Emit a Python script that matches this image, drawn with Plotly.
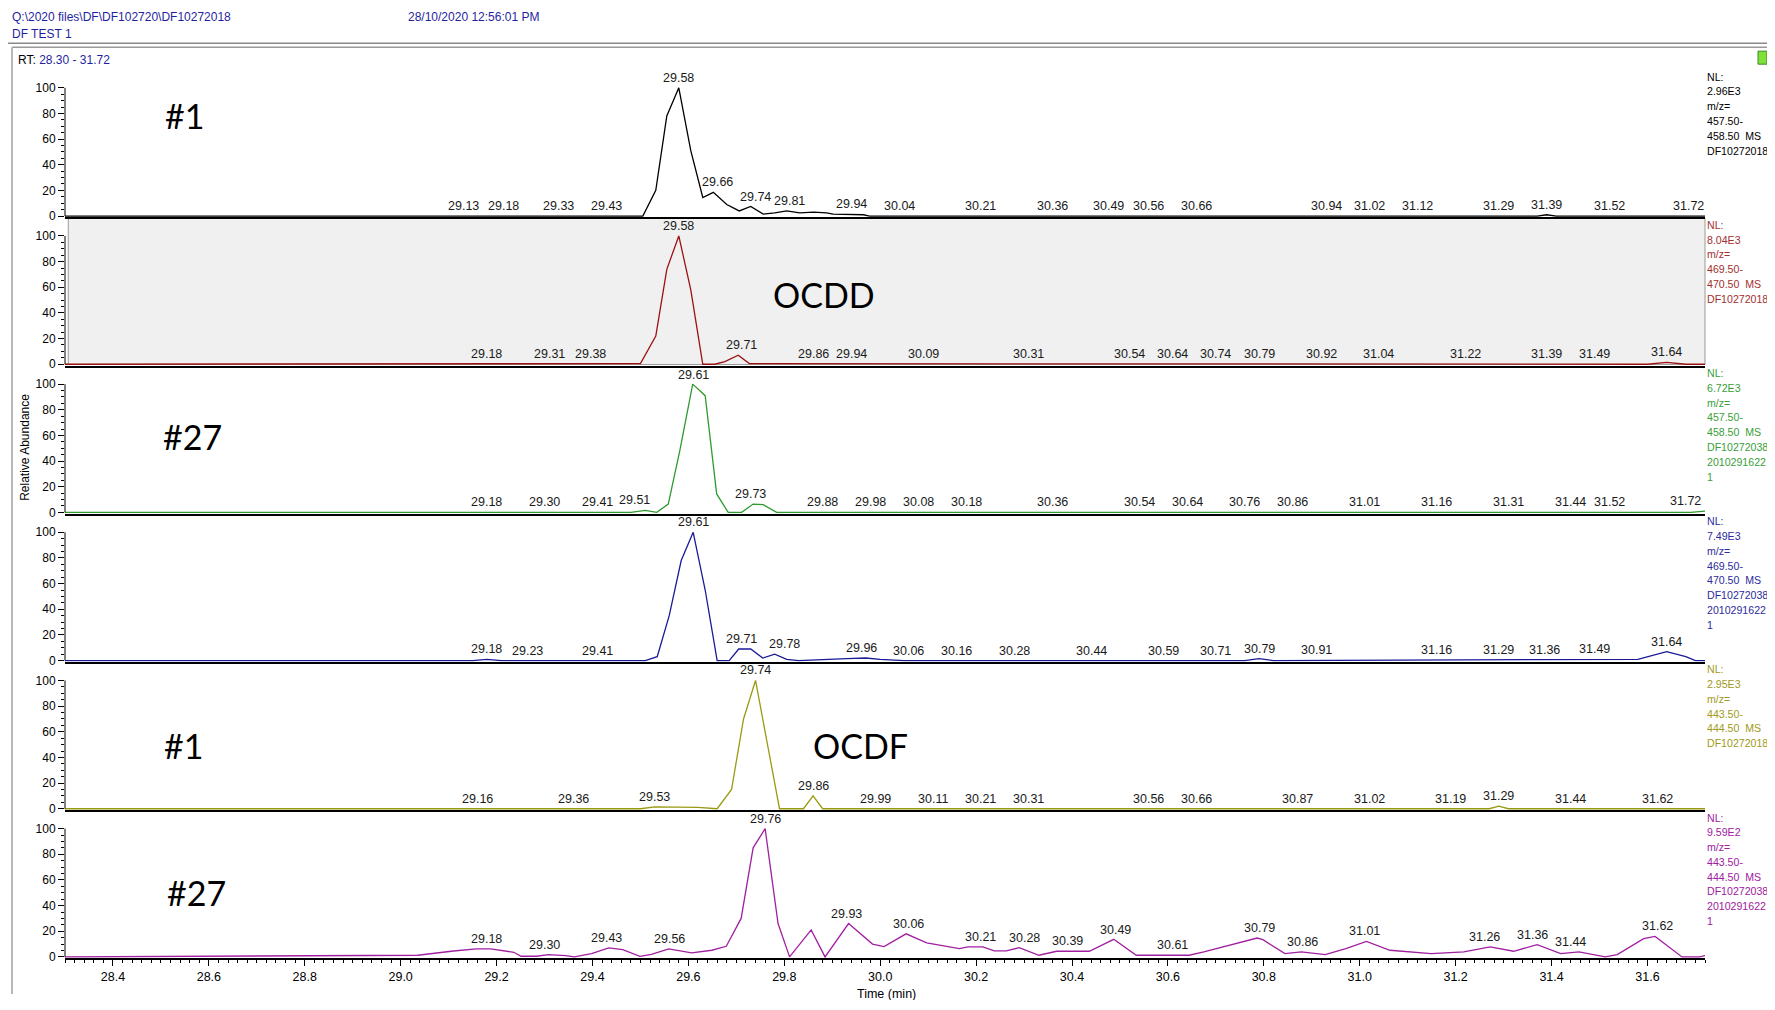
import numpy as np
import plotly.graph_objects as go

# Page body has an 8px margin: the figure is placed at (8, 8) in the window.
OFF = 8
FW, FH = 1759, 992

# ---------------- data ----------------
rt_range = [28.30, 31.72]

t1 = [28.30, 29.505, 29.532, 29.555, 29.58, 29.605, 29.63, 29.652, 29.68, 29.706, 29.73, 29.756, 29.78,
      29.805, 29.832, 29.861, 29.888, 29.902, 29.965, 29.978, 31.37, 31.39, 31.41, 31.72]
v1 = [0, 0, 20, 78, 100, 51, 14.5, 18.5, 9, 4, 7.5, 1.5, 2.5,
      4, 2.5, 3, 2.5, 1.5, 1, 0, 0, 1, 0, 0]

t2 = [28.30, 29.50, 29.532, 29.555, 29.58, 29.605, 29.63, 29.655, 29.676, 29.704, 29.727, 31.60, 31.64, 31.68, 31.72]
v2 = [0, 0.5, 22, 74, 100, 58, 0, 0, 2, 7, 0.5, 0, 1.5, 0, 0]

t3 = [28.30, 29.48, 29.51, 29.534, 29.558, 29.582, 29.609, 29.635, 29.659, 29.683, 29.711, 29.735, 29.756,
      29.784, 31.69, 31.72]
v3 = [0, 0, 1.5, 0, 6.5, 48, 100, 91, 14.4, 0, 0, 6.5, 6,
      0, 0, 1]

t4 = [28.30, 29.15, 29.18, 29.21, 29.51, 29.535, 29.56, 29.585, 29.61, 29.635, 29.66, 29.685, 29.705, 29.73,
      29.755, 29.78, 29.805, 29.83, 29.93, 29.97, 30.00, 30.05, 30.76, 30.79, 30.82, 31.58, 31.64, 31.68,
      31.70, 31.72]
v4 = [0, 0, 1, 0, 0, 3, 35, 78, 100, 55, 0, 0, 9, 9,
      2, 5, 1, 0, 1.5, 2, 1, 0, 0, 1.5, 0, 1, 7, 3,
      0, 0]

t5 = [28.30, 29.50, 29.53, 29.62, 29.66, 29.69, 29.715, 29.74, 29.765, 29.79, 29.84, 29.86, 29.88,
      31.27, 31.29, 31.31, 31.72]
v5 = [0, 0, 1.5, 1, 0, 15, 70, 100, 50, 0, 0, 10, 0,
      0, 2, 0, 0]

t6 = [28.30, 29.036, 29.110, 29.158, 29.188, 29.236, 29.251, 29.283, 29.308, 29.344, 29.362, 29.398, 29.434,
      29.463, 29.499, 29.523, 29.559, 29.607, 29.649, 29.679, 29.71, 29.735, 29.76, 29.787, 29.811, 29.856,
      29.885, 29.934, 29.984, 30.008, 30.054, 30.097, 30.165, 30.183, 30.214, 30.238, 30.263, 30.290, 30.331,
      30.368, 30.436, 30.487, 30.534, 30.644, 30.675, 30.755, 30.786, 30.798, 30.844, 30.878, 30.928, 30.971,
      31.014, 31.063, 31.149, 31.217, 31.272, 31.321, 31.370, 31.419, 31.457, 31.512, 31.537, 31.592, 31.616,
      31.672, 31.709, 31.72]
v6 = [0, 1.3, 4.6, 6.2, 6.2, 3.6, 0.5, 0.5, 1.8, 1, 0, 2.6, 7,
      5.7, 0.5, 2, 6.2, 3.1, 5.2, 8.3, 30, 85, 100, 26, 0, 21,
      0, 26, 10, 8, 18, 10.9, 6.5, 7.8, 7.8, 4.7, 4.7, 7.2, 1.3,
      4.4, 4.4, 13.7, 1.3, 1.3, 3.9, 11.6, 14.7, 13.4, 2.6, 3.9, 1.8, 6.5,
      12.1, 5.2, 2.6, 3.9, 7.8, 4.4, 9.6, 2.6, 3.9, 0, 1.8, 14.2, 16,
      0, 0, 1]

labels1 = [29.13, 29.18, 29.33, 29.43, 29.58, 29.66, 29.74, 29.81, 29.94, 30.04, 30.21, 30.36, 30.49, 30.56,
           30.66, 30.94, 31.02, 31.12, 31.29, 31.39, 31.52, 31.72]
labels2 = [29.18, 29.31, 29.38, 29.58, 29.71, 29.86, 29.94, 30.09, 30.31, 30.54, 30.64, 30.74, 30.79, 30.92,
           31.04, 31.22, 31.39, 31.49, 31.64]
labels3 = [29.18, 29.30, 29.41, 29.51, 29.61, 29.73, 29.88, 29.98, 30.08, 30.18, 30.36, 30.54, 30.64, 30.76,
           30.86, 31.01, 31.16, 31.31, 31.44, 31.52, 31.72]
labels4 = [29.18, 29.23, 29.41, 29.61, 29.71, 29.78, 29.96, 30.06, 30.16, 30.28, 30.44, 30.59, 30.71, 30.79,
           30.91, 31.16, 31.29, 31.36, 31.49, 31.64]
labels5 = [29.16, 29.36, 29.53, 29.74, 29.86, 29.99, 30.11, 30.21, 30.31, 30.56, 30.66, 30.87, 31.02, 31.19,
           31.29, 31.44, 31.62]
labels6 = [29.18, 29.30, 29.43, 29.56, 29.76, 29.93, 30.06, 30.21, 30.28, 30.39, 30.49, 30.61, 30.79, 30.86,
           31.01, 31.26, 31.36, 31.44, 31.62]

# where a label text is nudged sideways so neighbouring labels do not collide (as in the reference)
label_shift = [
    {29.18: 29.215, 30.49: 30.477, 30.94: 30.93, 31.72: 31.685},
    {29.38: 29.395, 30.54: 30.52, 30.64: 30.61, 30.74: 30.70},
    {29.51: 29.487, 31.72: 31.68},
    {29.23: 29.265, 29.78: 29.80, 30.71: 30.70, 31.36: 31.385},
    {},
    {30.28: 30.30, 30.86: 30.88},
]

nl_texts = [
    ["NL:", "2.96E3", "m/z=", "457.50-", "458.50  MS", "DF10272018"],
    ["NL:", "8.04E3", "m/z=", "469.50-", "470.50  MS", "DF10272018"],
    ["NL:", "6.72E3", "m/z=", "457.50-", "458.50  MS", "DF10272038", "2010291622", "1"],
    ["NL:", "7.49E3", "m/z=", "469.50-", "470.50  MS", "DF10272038", "2010291622", "1"],
    ["NL:", "2.95E3", "m/z=", "443.50-", "444.50  MS", "DF10272018"],
    ["NL:", "9.59E2", "m/z=", "443.50-", "444.50  MS", "DF10272038", "2010291622", "1"],
]

x_ticks = [28.4, 28.6, 28.8, 29.0, 29.2, 29.4, 29.6, 29.8, 30.0, 30.2, 30.4, 30.6, 30.8, 31.0, 31.2, 31.4, 31.6]
y_ticks = [0, 20, 40, 60, 80, 100]

header_path = "Q:\\2020 files\\DF\\DF102720\\DF10272018"
header_date = "28/10/2020 12:56:01 PM"
header_name = "DF TEST 1"

# ---------------- styles ----------------
line_colors = ["#000000", "#9b1111", "#2f9a2f", "#1a1a96", "#9a9a12", "#a020a0"]
text_colors = ["#000000", "#a33030", "#3a9e3a", "#2c2c9e", "#a09a20", "#a020a0"]
FONT = "Liberation Sans, Arial, sans-serif"
BIG_FONT = "Lato, Open Sans, sans-serif"

series = [(t1, v1, labels1), (t2, v2, labels2), (t3, v3, labels3),
          (t4, v4, labels4), (t5, v5, labels5), (t6, v6, labels6)]


def pxx(x):
    return (x - OFF) / FW


def pyy(y):
    # small empirical vertical calibration
    yc = y + 1.5 + (y - 60) * 0.0052
    return 1 - (yc - OFF) / FH


PANEL_H = 148.3
BOTTOM0 = 216.3
YR = [-1, 114.5]
XD = [pxx(65), pxx(1705)]
NL_STEP = 14.8

fig = go.Figure()
annotations = []
shapes = []

for i, (t, v, labs) in enumerate(series):
    k = i + 1
    sx = "" if k == 1 else str(k)
    bottom = BOTTOM0 + i * PANEL_H
    top = bottom - PANEL_H
    fig.add_trace(go.Scatter(x=t, y=v, mode="lines", line=dict(color=line_colors[i], width=1.3),
                             xaxis="x" + sx, yaxis="y" + sx, showlegend=False, hoverinfo="skip"))
    last = (i == 5)
    fig.layout["xaxis" + sx] = dict(
        domain=XD, range=rt_range, anchor="y" + sx, showgrid=False, zeroline=False,
        showline=True, linecolor="#000000", linewidth=2,
        showticklabels=last, ticks="outside" if last else "",
        tickmode="array", tickvals=x_ticks if last else [], ticktext=[f"{x:.1f}" for x in x_ticks] if last else [],
        ticklen=6, tickcolor="#000", tickfont=dict(family=FONT, size=12.5, color="#000"),
        minor=dict(dtick=0.02, tick0=28.3, ticks="outside", ticklen=3, tickcolor="#000") if last else dict(ticks=""),
    )
    fig.layout["yaxis" + sx] = dict(
        domain=[pyy(bottom), pyy(top)], range=YR, anchor="x" + sx, showgrid=False, zeroline=False,
        showline=False, ticks="outside", tickmode="array", tickvals=y_ticks,
        ticktext=[str(y) for y in y_ticks], ticklen=6, tickcolor="#000",
        tickfont=dict(family=FONT, size=12, color="#000"),
        minor=dict(tickmode="array", tickvals=[y for y in range(5, 100, 5) if y % 20 != 0],
                   ticks="outside", ticklen=3, tickcolor="#000"),
    )
    # y axis line from 0 to 100
    shapes.append(dict(type="line", xref="x" + sx + " domain", yref="y" + sx, x0=0, x1=0, y0=0, y1=100,
                       line=dict(color="#000", width=1)))
    # peak labels
    ta = np.array(t, dtype=float)
    va = np.array(v, dtype=float)
    for lab in labs:
        grid = np.linspace(lab - 0.008, lab + 0.008, 9)
        yv = float(np.max(np.interp(grid, ta, va)))
        xpos = label_shift[i].get(lab, lab)
        annotations.append(dict(x=xpos, y=yv + 0.8, xref="x" + sx, yref="y" + sx, text=f"{lab:.2f}",
                                showarrow=False, xanchor="center", yanchor="bottom",
                                font=dict(family=FONT, size=12.5, color="#1a1a1a")))
    # NL text block, one line at a time
    for j, line in enumerate(nl_texts[i]):
        annotations.append(dict(x=pxx(1705), y=pyy(top + 7.5 + j * NL_STEP), xref="paper", yref="paper",
                                text=line, showarrow=False, xanchor="left", yanchor="middle",
                                align="left", font=dict(family=FONT, size=10.6, color=text_colors[i])))

# grey selected-panel background (panel 2)
shapes.insert(0, dict(type="rect", xref="x2 domain", yref="paper", x0=0.002, x1=1,
                      y0=pyy(BOTTOM0 + PANEL_H - 1), y1=pyy(BOTTOM0 + 1),
                      fillcolor="#f0f0f0", line=dict(color="#9a9a9a", width=1), layer="below"))

# big sample labels
big = [("#1", 184, 114), ("OCDD", 824, 294), ("#27", 192, 436), ("#1", 183, 745), ("OCDF", 860, 745),
       ("#27", 196, 892)]
for txt, x, y in big:
    annotations.append(dict(x=pxx(x), y=pyy(y), xref="paper", yref="paper", text=txt, showarrow=False,
                            xanchor="center", yanchor="middle",
                            font=dict(family=BIG_FONT, size=34, color="#000")))

# header texts
annotations += [
    dict(x=pxx(10), y=pyy(16), xref="paper", yref="paper", text=header_path, showarrow=False,
         xanchor="left", yanchor="middle", font=dict(family=FONT, size=12, color="#1f1fa0")),
    dict(x=pxx(406), y=pyy(16), xref="paper", yref="paper", text=header_date, showarrow=False,
         xanchor="left", yanchor="middle", font=dict(family=FONT, size=12, color="#1f1fa0")),
    dict(x=pxx(10), y=pyy(33), xref="paper", yref="paper", text=header_name, showarrow=False,
         xanchor="left", yanchor="middle", font=dict(family=FONT, size=12, color="#1f1fa0")),
    dict(x=pxx(16), y=pyy(59), xref="paper", yref="paper",
         text="RT: <span style='color:#1f1fa0'>28.30 - 31.72</span>", showarrow=False,
         xanchor="left", yanchor="middle", font=dict(family=FONT, size=12, color="#000")),
    dict(x=pxx(25), y=pyy(447), xref="paper", yref="paper", text="Relative Abundance", showarrow=False,
         textangle=-90, xanchor="center", yanchor="middle", font=dict(family=FONT, size=12, color="#000")),
    dict(x=pxx(886), y=pyy(994), xref="paper", yref="paper", text="Time (min)", showarrow=False,
         xanchor="center", yanchor="middle", font=dict(family=FONT, size=12.5, color="#000")),
]

# frames
shapes += [
    dict(type="line", xref="paper", yref="paper", x0=0, x1=1, y0=pyy(42), y1=pyy(42),
         line=dict(color="#8a8a8a", width=1.5), layer="below"),
    dict(type="line", xref="paper", yref="paper", x0=pxx(12), x1=1, y0=pyy(46), y1=pyy(46),
         line=dict(color="#9a9a9a", width=1.5), layer="below"),
    dict(type="line", xref="paper", yref="paper", x0=pxx(12), x1=pxx(12), y0=0, y1=pyy(46),
         line=dict(color="#b8b8b8", width=2), layer="below"),
    dict(type="rect", xref="paper", yref="paper", x0=pxx(1758), x1=pxx(1767), y0=pyy(63), y1=pyy(50),
         fillcolor="#7fe03a", line=dict(color="#3a8a20", width=1)),
]

fig.update_layout(width=FW, height=FH, margin=dict(l=0, r=0, t=0, b=0),
                  paper_bgcolor="#ffffff", plot_bgcolor="rgba(0,0,0,0)",
                  annotations=annotations, shapes=shapes, showlegend=False,
                  font=dict(family=FONT))

fig.write_html("out.html")
